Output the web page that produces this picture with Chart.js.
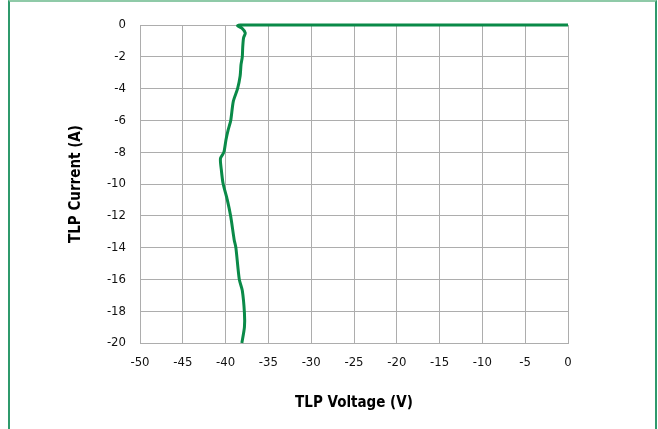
<!DOCTYPE html>
<html>
<head>
<meta charset="utf-8">
<script src="https://cdn.jsdelivr.net/npm/chart.js@4.4.0/dist/chart.umd.min.js"></script>
<style>
  html, body { margin: 0; padding: 0; background: #fff; }
  #frame {
    position: absolute; left: 8px; top: 0; width: 645px; height: 440px;
    border-left: 2px solid #2f9a6c; border-right: 2px solid #2f9a6c; border-top: 2px solid #8fcaa8;
  }
  #wrap { position: absolute; left: 0; top: 0; width: 658px; height: 429px; }
</style>
</head>
<body>
<div id="frame"></div>
<div id="wrap"><canvas id="tlpChart" width="658" height="429"></canvas></div>
<script>
// TLP curve: voltage (V) and current (A)
const voltage = [0, -10, -20, -30, -38.3, -38.6, -38.1, -37.7, -37.9, -38.0, -38.05, -38.2, -38.3, -38.6, -39.1, -39.4, -39.7, -39.95, -40.2, -40.6, -40.5, -40.3, -39.8, -39.4, -39.0, -38.8, -38.4, -38.05, -37.8, -37.8, -38.1];
const current = [0, 0, 0, 0, 0, -0.05, -0.2, -0.5, -0.8, -1.4, -2.0, -2.5, -3.2, -4.0, -4.8, -6.0, -6.6, -7.2, -8.0, -8.4, -9.1, -9.95, -11.0, -12.05, -13.5, -14.0, -16.0, -16.7, -18.1, -19.0, -20];

const xTicks = [-50, -45, -40, -35, -30, -25, -20, -15, -10, -5, 0];
const yTicks = [-20, -18, -16, -14, -12, -10, -8, -6, -4, -2, 0];

const points = voltage.map((v, i) => ({ x: v, y: current[i] }));

const fontFamily = '"Liberation Sans Narrow", "DejaVu Sans Condensed", Arial, sans-serif';
const gridColor = '#adadad';

const ctx = document.getElementById('tlpChart').getContext('2d');
new Chart(ctx, {
  type: 'scatter',
  data: {
    datasets: [{
      data: points,
      showLine: true,
      borderColor: '#0a8a48',
      borderWidth: 3,
      pointRadius: 0,
      tension: 0.25,
      clip: 6
    }]
  },
  options: {
    responsive: false,
    animation: false,
    layout: { padding: { left: 10, top: 25, right: 90, bottom: 0 } },
    plugins: { legend: { display: false }, tooltip: { enabled: false } },
    scales: {
      x: {
        type: 'linear',
        min: -50, max: 0,
        afterBuildTicks: s => { s.ticks = xTicks.map(v => ({ value: v })); },
        afterFit: s => { s.height = 86; },
        grid: { color: gridColor, drawTicks: false },
        border: { color: gridColor },
        ticks: { color: '#111', padding: 12, maxRotation: 0, font: { family: fontFamily, size: 13 } },
        title: {
          display: true, text: 'TLP Voltage (V)', color: '#000',
          font: { family: fontFamily, size: 15, weight: 'bold' },
          padding: { top: 0, bottom: 17 }
        }
      },
      y: {
        type: 'linear',
        min: -20, max: 0,
        afterBuildTicks: s => { s.ticks = yTicks.map(v => ({ value: v })); },
        afterFit: s => { s.width = 130; },
        grid: { color: gridColor, drawTicks: false },
        border: { color: gridColor },
        ticks: { color: '#111', padding: 14, font: { family: fontFamily, size: 13 } },
        title: {
          display: true, text: 'TLP Current (A)', color: '#000',
          font: { family: fontFamily, size: 15, weight: 'bold' },
          padding: { top: 57, bottom: 0 }
        }
      }
    }
  }
});
</script>
</body>
</html>
